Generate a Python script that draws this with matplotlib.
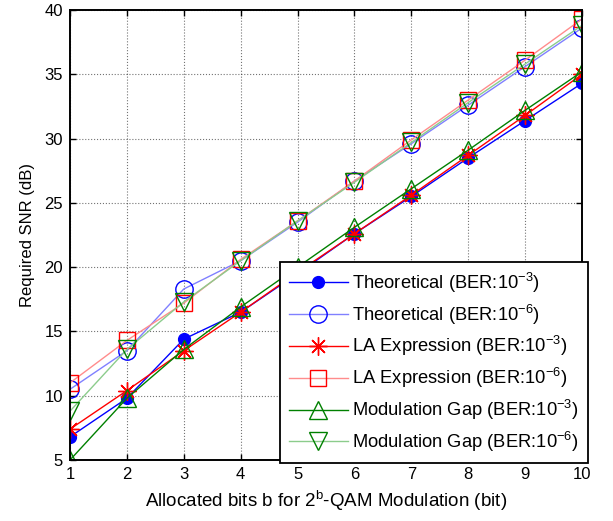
import matplotlib
matplotlib.use("Agg")
import matplotlib.pyplot as plt

plt.rcParams['font.family'] = ['Liberation Sans', 'DejaVu Sans']
plt.rcParams['mathtext.fontset'] = 'custom'
plt.rcParams['mathtext.rm'] = 'Liberation Sans'
plt.rcParams['mathtext.it'] = 'Liberation Sans'
plt.rcParams['mathtext.bf'] = 'Liberation Sans:bold'

bits = [1, 2, 3, 4, 5, 6, 7, 8, 9, 10]
theo_3 = [6.8, 9.8, 14.4, 16.5, 19.5, 22.6, 25.5, 28.5, 31.4, 34.3]
theo_6 = [10.5, 13.5, 18.3, 20.5, 23.5, 26.7, 29.6, 32.6, 35.6, 38.6]
la_3 = [7.4, 10.4, 13.5, 16.5, 19.6, 22.6, 25.6, 28.7, 31.8, 35.0]
la_6 = [11.0, 14.3, 17.2, 20.6, 23.6, 26.7, 29.9, 33.0, 36.1, 39.3]
gap_3 = [5.0, 9.8, 13.6, 16.9, 20.0, 23.1, 26.1, 29.1, 32.2, 35.2]
gap_6 = [8.8, 13.6, 17.3, 20.5, 23.6, 26.6, 29.7, 32.8, 35.8, 38.8]

labels = ['Theoretical (BER:10$^{\\mathregular{-3}}$)', 'Theoretical (BER:10$^{\\mathregular{-6}}$)',
          'LA Expression (BER:10$^{\\mathregular{-3}}$)', 'LA Expression (BER:10$^{\\mathregular{-6}}$)',
          'Modulation Gap (BER:10$^{\\mathregular{-3}}$)', 'Modulation Gap (BER:10$^{\\mathregular{-6}}$)']

fig = plt.figure(figsize=(6.13, 5.21), dpi=100)
ax = fig.add_axes([70/613, 1-460/521, 512/613, 450/521])

ax.plot(bits, theo_3, color='blue', lw=1.0, marker='o', ms=8.5, mfc='blue', mec='blue', label=labels[0])
ax.plot(bits, theo_6, color=(0.5, 0.5, 1.0), lw=1.0, marker='o', ms=12.5, mfc='none', mec='blue', label=labels[1])
ax.plot(bits, la_3, color='red', lw=1.0, marker=(8, 2, 0), ms=13, mfc='none', mec='red', mew=1.0, label=labels[2])
ax.plot(bits, la_6, color=(1.0, 0.55, 0.55), lw=1.0, marker='s', ms=11, mfc='none', mec='red', label=labels[3])
ax.plot(bits, gap_3, color=(0.0, 0.5, 0.0), lw=1.0, marker='^', ms=12.5, mfc='none', mec=(0.0, 0.5, 0.0), label=labels[4])
ax.plot(bits, gap_6, color=(0.55, 0.8, 0.55), lw=1.0, marker='v', ms=12.5, mfc='none', mec=(0.0, 0.5, 0.0), label=labels[5])

ax.set_xlim(1, 10)
ax.set_ylim(5, 40)
ax.set_xticks(range(1, 11))
ax.set_yticks(range(5, 41, 5))
ax.grid(True, color='black', linestyle=':', linewidth=0.8, alpha=0.55)
ax.tick_params(direction='in', top=True, right=True, labelsize=12, length=4, width=1, pad=5)
for s in ax.spines.values():
    s.set_linewidth(1.4)

ax.set_xlabel('Allocated bits b for 2$^{\\mathregular{b}}$-QAM Modulation (bit)', fontsize=13.5, labelpad=5)
ax.set_ylabel('Required SNR (dB)', fontsize=12, labelpad=7)

leg = ax.legend(loc='lower right', fontsize=13.2, handlelength=3.2, fancybox=False,
                framealpha=1, edgecolor='black', borderaxespad=0.0, labelspacing=0.42,
                handletextpad=0.25, borderpad=0.5, bbox_to_anchor=(1.012, -0.0067))
leg.get_frame().set_linewidth(1.3)

fig.savefig('out.png', dpi=100)
